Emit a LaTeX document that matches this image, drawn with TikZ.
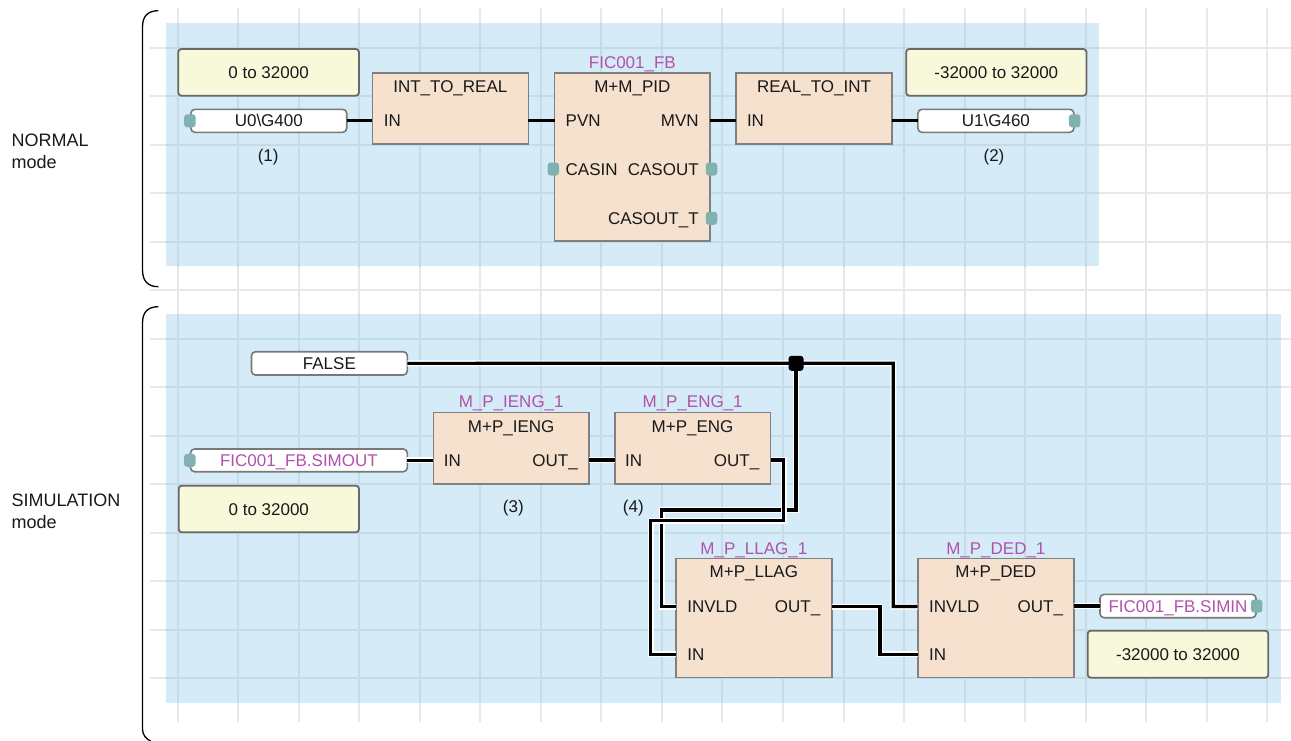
\documentclass[tikz,border=0pt]{standalone}
\usepackage{fontspec}
\setmainfont{Liberation Sans}
\usetikzlibrary{calc}
\definecolor{bluebg}{RGB}{213,235,248}
\definecolor{blkfill}{RGB}{245,225,206}
\definecolor{blkline}{RGB}{128,128,128}
\definecolor{yelfill}{RGB}{248,248,218}
\definecolor{yelline}{RGB}{105,105,105}
\definecolor{varline}{RGB}{120,120,120}
\definecolor{purp}{RGB}{178,82,170}
\definecolor{tealdot}{RGB}{128,178,178}
\definecolor{txtcol}{RGB}{25,25,25}
\definecolor{gridout}{RGB}{232,232,232}
\definecolor{gridin}{RGB}{197,220,232}
\newcommand\lblfont{\fontsize{17}{20}\selectfont}
\newcommand\sidefont{\fontsize{18}{21.6}\selectfont}
\newcommand\mygridlines[1]{%
  \foreach \i in {0,...,18} \draw[draw=#1, line width=2pt] ({177.5+60.55*\i},8.3) -- ({177.5+60.55*\i},722.3);
  \foreach \j in {0,...,13} \draw[draw=#1, line width=2pt] (150,{47.7+48.5*\j}) -- (1291,{47.7+48.5*\j});
}
\begin{document}
\begin{tikzpicture}[x=1pt,y=-1pt,
 blk/.style={draw=blkline, fill=blkfill, line width=1.6pt, inner sep=0pt, outer sep=0pt, anchor=north west},
 yel/.style={draw=yelline, fill=yelfill, line width=1.8pt, rounded corners=3pt, inner sep=0pt, outer sep=0pt, anchor=north west, font=\lblfont, text=txtcol, text height=12.2pt, text depth=0pt},
 var/.style={draw=varline, fill=white, line width=1.6pt, rounded corners=4pt, inner sep=0pt, outer sep=0pt, anchor=north west, font=\lblfont, text=txtcol, text height=12.2pt, text depth=0pt},
 txt/.style={inner sep=0pt, outer sep=0pt, font=\lblfont, text=txtcol, text height=12.2pt, text depth=0pt},
 pur/.style={txt, text=purp},
 side/.style={inner sep=0pt, outer sep=0pt, font=\sidefont, text=txtcol, anchor=base west},
 pdot/.style={fill=tealdot, rounded corners=3pt, minimum width=11.5pt, minimum height=13pt, inner sep=0pt, outer sep=0pt},
 junc/.style={fill=black, rounded corners=3pt, minimum width=15pt, minimum height=15pt, inner sep=0pt, outer sep=0pt},
 wire/.style={line width=3.2pt, draw=black},
 hwire/.style={wire, preaction={draw=white, line width=6pt}},
 brk/.style={line width=1.3pt, draw=black},
]
\useasboundingbox (0,0) rectangle (1291,740);
\fill[white] (0,0) rectangle (1291,740);
% grid and panels
\mygridlines{gridout}
\fill[bluebg] (165.7,23.3) rectangle (1098.8,266);
\fill[bluebg] (165.7,314.3) rectangle (1280.7,702.7);
\begin{scope}
  \clip (165.7,23.3) rectangle (1098.8,266);
  \mygridlines{gridin}
\end{scope}
\begin{scope}
  \clip (165.7,314.3) rectangle (1280.7,702.7);
  \mygridlines{gridin}
\end{scope}
% brackets
\draw[brk] (158.3,10.7) .. controls (148,10.7) and (142.5,16) .. (142.5,27) -- (142.5,270) .. controls (142.5,281) and (148,286.7) .. (158.3,286.7);
\draw[brk] (158.3,306.7) .. controls (148,306.7) and (142.5,312) .. (142.5,323) -- (142.5,729) .. controls (142.5,735) and (146,739) .. (152,742);
% side labels
\node[side] (norm1) at (11.7,146.7) {NORMAL};
\node[side] (norm2) at (11.7,168.3) {mode};
\node[side] (sim1) at (11.7,506.7) {SIMULATION};
\node[side] (sim2) at (11.7,528.3) {mode};

% ===== NORMAL mode =====
\node[yel, minimum width=180.6pt, minimum height=46.7pt] (rng1) at (178.3,49) {0 to 32000};
\node[var, minimum width=155.8pt, minimum height=23pt] (u0) at (190.9,109.3) {U0\textbackslash G400};
\node[txt] (lab1) at (268.2,155.7) {(1)};

\node[blk, minimum width=156.1pt, minimum height=71.3pt] (i2r) at (372.3,72.7) {};
\node[txt] (i2rt) at ($(i2r.north)+(0,14)$) {INT\_TO\_REAL};
\node[txt, anchor=west] (i2rin) at ($(i2r.north west)+(11.5,48)$) {IN};

\node[blk, minimum width=155.7pt, minimum height=168pt] (pid) at (554.5,72.7) {};
\node[pur] (pidn) at ($(pid.north)+(0,-10)$) {FIC001\_FB};
\node[txt] (pidt) at ($(pid.north)+(0,14)$) {M+M\_PID};
\node[txt, anchor=west] (pidpvn) at ($(pid.north west)+(11.2,48)$) {PVN};
\node[txt, anchor=east] (pidmvn) at ($(pid.north east)+(-11.5,48)$) {MVN};
\node[txt, anchor=west] (pidcasin) at ($(pid.north west)+(11.2,96.3)$) {CASIN};
\node[txt, anchor=east] (pidcasout) at ($(pid.north east)+(-11.5,96.3)$) {CASOUT};
\node[txt, anchor=east] (pidcasoutt) at ($(pid.north east)+(-11.5,145.6)$) {CASOUT\_T};

\node[blk, minimum width=156.4pt, minimum height=71.3pt] (r2i) at (735.8,72.7) {};
\node[txt] (r2it) at ($(r2i.north)+(0,14)$) {REAL\_TO\_INT};
\node[txt, anchor=west] (r2iin) at ($(r2i.north west)+(11.2,48)$) {IN};

\node[yel, minimum width=180.2pt, minimum height=46.7pt] (rng2) at (906.2,49) {-32000 to 32000};
\node[var, minimum width=156pt, minimum height=23pt] (u1) at (917.9,109.3) {U1\textbackslash G460};
\node[txt] (lab2) at (994,155.7) {(2)};

\draw[wire] (u0.east) -- (i2r.west |- u0.east);
\draw[wire] (i2r.east |- i2rin.west) -- (pid.west |- i2rin.west);
\draw[wire] (pid.east |- pidmvn.east) -- (r2i.west |- pidmvn.east);
\draw[wire] (r2i.east |- r2iin.west) -- (u1.west |- r2iin.west);

\node[pdot] (d1) at ($(u0.west)+(-1,0)$) {};
\node[pdot] (d2) at ($(pid.west |- pidcasin.west)+(-1.2,0)$) {};
\node[pdot] (d3) at ($(pid.east |- pidcasout.east)+(1.3,0)$) {};
\node[pdot] (d4) at ($(pid.east |- pidcasoutt.east)+(1.3,0)$) {};
\node[pdot] (d5) at ($(u1.east)+(0.8,0)$) {};

% ===== SIMULATION mode =====
\node[var, minimum width=155.8pt, minimum height=23.3pt] (false) at (251.5,351.7) {FALSE};
\node[var, minimum width=216.8pt, minimum height=22.7pt, text=purp] (simout) at (190.5,449) {FIC001\_FB.SIMOUT};
\node[yel, minimum width=180.2pt, minimum height=46.6pt] (rng3) at (178.7,485.7) {0 to 32000};

\node[blk, minimum width=155.6pt, minimum height=71.7pt] (ieng) at (433.4,412.3) {};
\node[pur] (iengn) at ($(ieng.north)+(0,-10.6)$) {M\_P\_IENG\_1};
\node[txt] (iengt) at ($(ieng.north)+(0,13.7)$) {M+P\_IENG};
\node[txt, anchor=west] (iengin) at ($(ieng.north west)+(10.5,47.7)$) {IN};
\node[txt, anchor=east] (iengout) at ($(ieng.north east)+(-11.3,47.7)$) {OUT\_};

\node[blk, minimum width=155.8pt, minimum height=71.7pt] (eng) at (614.7,412.3) {};
\node[pur] (engn) at ($(eng.north)+(0,-10.6)$) {M\_P\_ENG\_1};
\node[txt] (engt) at ($(eng.north)+(0,13.7)$) {M+P\_ENG};
\node[txt, anchor=west] (engin) at ($(eng.north west)+(10.5,47.7)$) {IN};
\node[txt, anchor=east] (engout) at ($(eng.north east)+(-11.3,47.7)$) {OUT\_};

\node[txt] (lab3) at (513.3,506.7) {(3)};
\node[txt] (lab4) at (633.3,506.7) {(4)};

\node[blk, minimum width=155.7pt, minimum height=119.3pt] (llag) at (676,558.3) {};
\node[pur] (llagn) at ($(llag.north)+(0,-10.3)$) {M\_P\_LLAG\_1};
\node[txt] (llagt) at ($(llag.north)+(0,13.5)$) {M+P\_LLAG};
\node[txt, anchor=west] (llaginvld) at ($(llag.north west)+(11.3,48.2)$) {INVLD};
\node[txt, anchor=east] (llagout) at ($(llag.north east)+(-11.5,48.2)$) {OUT\_};
\node[txt, anchor=west] (llagin) at ($(llag.north west)+(11.3,95.9)$) {IN};

\node[blk, minimum width=156.3pt, minimum height=119.3pt] (ded) at (917.7,558.3) {};
\node[pur] (dedn) at ($(ded.north)+(0,-10.3)$) {M\_P\_DED\_1};
\node[txt] (dedt) at ($(ded.north)+(0,13.5)$) {M+P\_DED};
\node[txt, anchor=west] (dedinvld) at ($(ded.north west)+(11.5,48.2)$) {INVLD};
\node[txt, anchor=east] (dedout) at ($(ded.north east)+(-11,48.2)$) {OUT\_};
\node[txt, anchor=west] (dedin) at ($(ded.north west)+(11.5,95.9)$) {IN};

\node[var, minimum width=156pt, minimum height=23.4pt, text=purp] (simin) at (1100,594.3) {FIC001\_FB.SIMIN};
\node[yel, minimum width=180.6pt, minimum height=47pt] (rng4) at (1087.7,630.7) {-32000 to 32000};

\coordinate (jn) at (796,363.3);
\draw[hwire] (false.east) -- (jn) -- ++(97.3,0) |- (ded.west |- dedinvld.west);
\draw[hwire] (jn) |- ++(-134.3,146.7) |- (llag.west |- llaginvld.west);
\draw[hwire] (eng.east |- engout.east) -- ++(13,0) |- ++(-132.8,60.7) |- (llag.west |- llagin.west);
\draw[hwire] (llag.east |- llagout.east) -- ++(48.3,0) |- (ded.west |- dedin.west);
\draw[hwire] (ded.east |- simin.west) -- (simin.west);
\draw[hwire] (simout.east) -- (ieng.west |- simout.east);
\draw[hwire] (ieng.east |- iengout.east) -- (eng.west |- iengout.east);
\node[junc] (jsq) at (jn) {};

\node[pdot] (d6) at ($(simout.west)+(-0.7,0)$) {};
\node[pdot] (d7) at ($(simin.east)+(0.7,0)$) {};
\end{tikzpicture}
\end{document}
